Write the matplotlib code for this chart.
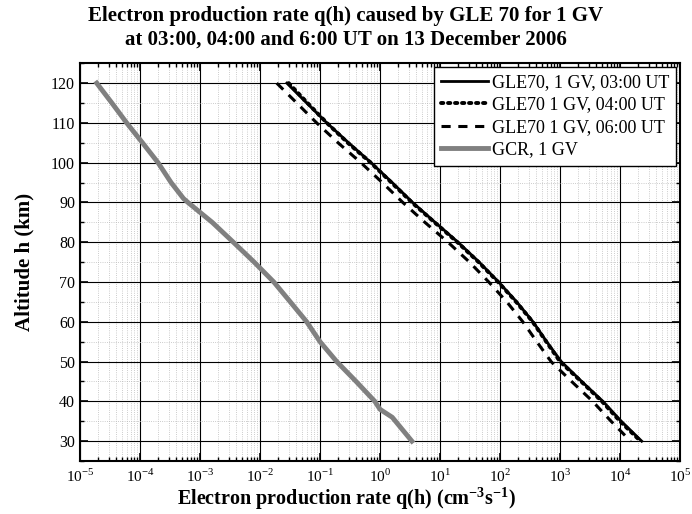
import math
import matplotlib
matplotlib.use('Agg')
import matplotlib.pyplot as plt
from matplotlib.ticker import LogLocator, MultipleLocator, NullFormatter, FuncFormatter

plt.rcParams['font.family'] = ['Liberation Serif', 'DejaVu Serif']
plt.rcParams['mathtext.fontset'] = 'custom'
plt.rcParams['mathtext.rm'] = 'Liberation Serif'
plt.rcParams['mathtext.bf'] = 'Liberation Serif:bold'
plt.rcParams['axes.unicode_minus'] = False

# altitudes (km)
alt_gle = [120, 115, 110, 105, 100, 95, 90, 85, 80, 75, 70, 65, 60, 55, 50, 45, 40, 35, 30]
q_0300 = [0.028, 0.060, 0.13, 0.30, 0.71, 1.6, 3.5, 8.3, 20, 45, 95, 190, 355, 600,
          1050, 2300, 5200, 1.05e4, 2.3e4]
q_0400 = [0.030, 0.062, 0.13, 0.29, 0.70, 1.55, 3.4, 8.1, 19.5, 44, 93, 186, 350, 590,
          1000, 2250, 5000, 1.0e4, 2.2e4]
q_0600 = [0.019, 0.041, 0.088, 0.20, 0.48, 1.09, 2.4, 5.6, 13.6, 31, 65, 130, 240, 410,
          710, 1560, 3500, 7100, 1.5e4]

alt_gcr = [120, 115, 110, 105, 100, 95, 91, 90, 85, 80, 75, 70, 65, 60, 55, 50, 45, 40, 38, 36, 30]
q_gcr = [1.9e-5, 3.4e-5, 6.0e-5, 1.1e-4, 2.0e-4, 3.3e-4, 5.3e-4, 6.3e-4, 1.6e-3, 3.6e-3,
         8.0e-3, 1.7e-2, 3.2e-2, 6.0e-2, 0.10, 0.19, 0.40, 0.82, 1.0, 1.6, 3.4]

fig = plt.figure(figsize=(6.92, 5.14), dpi=100)
ax = fig.add_axes([0.1156, 0.103, 0.8671, 0.774])

ax.plot(q_0300, alt_gle, color='black', lw=2, label='GLE70, 1 GV, 03:00 UT')
ax.plot(q_0400, alt_gle, color='black', lw=2.8, linestyle=(0, (0.6, 1.2)),
        dash_capstyle='round', label='GLE70 1 GV, 04:00 UT')
ax.plot(q_0600, alt_gle, color='black', lw=2.2, linestyle=(0, (3, 2.5)),
        label='GLE70 1 GV, 06:00 UT')
ax.plot(q_gcr, alt_gcr, color='#808080', lw=3.5, label='GCR, 1 GV')

ax.set_xscale('log')
ax.set_xlim(1e-5, 1e5)
ax.set_ylim(25, 125)
ax.xaxis.set_major_locator(LogLocator(base=10, numticks=20))
ax.xaxis.set_major_formatter(FuncFormatter(lambda v, p: r'10$^{%d}$' % round(math.log10(v))))
ax.xaxis.set_minor_locator(LogLocator(base=10, subs=range(2, 10), numticks=20))
ax.xaxis.set_minor_formatter(NullFormatter())
ax.yaxis.set_minor_locator(MultipleLocator(5))
ax.set_yticks(range(30, 121, 10))

ax.grid(which='major', color='black', lw=0.8)
ax.grid(which='minor', color='#bbbbbb', lw=0.6, linestyle=':')
ax.set_axisbelow(True)
ax.tick_params(which='both', direction='in', top=True, right=True, labelsize=11.5)
ax.tick_params(axis='x', pad=5, labelsize=11)
ax.tick_params(which='major', length=6, width=1.2)
ax.tick_params(which='minor', length=3, width=1)
for s in ax.spines.values():
    s.set_linewidth(1.5)

fig.text(0.5, 0.004, r'Electron production rate q(h) (cm$^{\mathbf{-3}}$s$^{\mathbf{-1}}$)',
         fontsize=14.5, fontweight='bold', ha='center', va='bottom')
fig.text(0.035, 0.49, 'Altitude h (km)', fontsize=15, fontweight='bold',
         rotation=90, ha='center', va='center')
fig.text(0.5, 0.988, 'Electron production rate q(h) caused by GLE 70 for 1 GV\n'
         'at 03:00, 04:00 and 6:00 UT on 13 December 2006',
         fontsize=15, fontweight='bold', ha='center', va='top', linespacing=1.25)

leg = ax.legend(loc='upper right', fontsize=13, frameon=True, fancybox=False,
                edgecolor='black', framealpha=1, handlelength=2.6, handletextpad=0.2,
                borderaxespad=0.2, labelspacing=0.3, borderpad=0.4)
leg.get_frame().set_linewidth(1.0)

fig.savefig('out.png', dpi=100)
